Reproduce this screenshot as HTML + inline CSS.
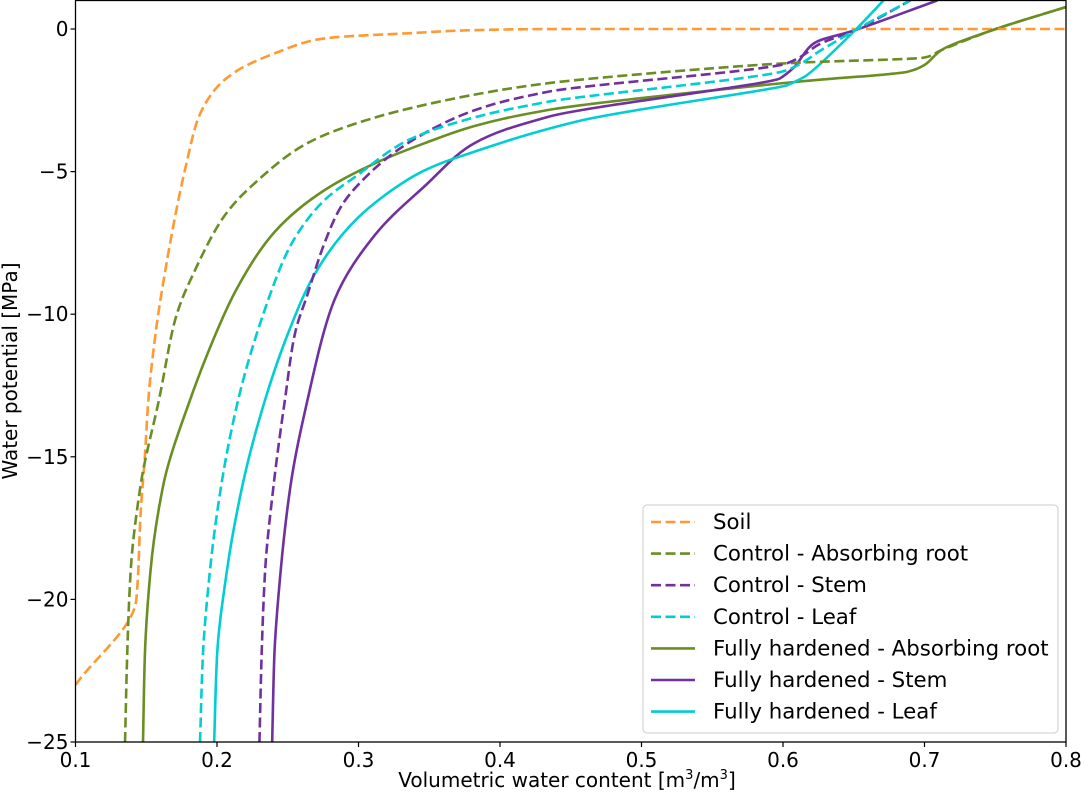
<!DOCTYPE html>
<html><head><meta charset="utf-8"><style>
body{margin:0;background:#fff;}
svg text{font-family:"DejaVu Sans","Liberation Sans",sans-serif;}
</style></head><body>
<svg id="chart" width="1085" height="793" viewBox="0 0 1085 793" xmlns="http://www.w3.org/2000/svg">
<g id="plot"></g>
<g id="axes"></g>
<g id="legend"></g>
</svg>
<script>
const xTicks=[0.1,0.2,0.3,0.4,0.5,0.6,0.7,0.8];
const yTicks=[0,-5,-10,-15,-20,-25];
const seriesNames=["Soil","Control - Absorbing root","Control - Stem","Control - Leaf","Fully hardened - Absorbing root","Fully hardened - Stem","Fully hardened - Leaf"];
const soilX=[0.1,0.143,0.146,0.149,0.1515,0.1565,0.168,0.178,0.187,0.199,0.213,0.241,0.276,0.335,0.382,0.45,0.8];
const soilY=[-23,-20,-17,-15,-13,-10.7,-7.2,-4.8,-3.1,-2.1,-1.5,-0.85,-0.33,-0.15,-0.04,0,0];
const ctrlRootX=[0.135,0.1365,0.139,0.146,0.159,0.171,0.185,0.206,0.229,0.264,0.312,0.382,0.434,0.603,0.700,0.712,0.748,0.8];
const ctrlRootY=[-25,-22,-19,-16,-13,-10.1,-8.4,-6.5,-5.3,-4.0,-3.1,-2.3,-1.9,-1.2,-1.0,-0.74,-0.04,0.77];
const ctrlStemX=[0.230,0.2315,0.234,0.240,0.248,0.255,0.264,0.276,0.288,0.307,0.335,0.382,0.434,0.603,0.627,0.651,0.690];
const ctrlStemY=[-25,-22,-19,-16,-13,-10.7,-9.3,-7.5,-6.2,-5.1,-4.0,-2.85,-2.2,-1.2,-0.5,-0.04,1.0];
const ctrlLeafX=[0.188,0.190,0.195,0.203,0.215,0.232,0.253,0.276,0.300,0.335,0.382,0.434,0.603,0.627,0.651,0.690];
const ctrlLeafY=[-25,-22,-19,-16,-13,-10.1,-7.5,-6.0,-5.1,-3.9,-3.1,-2.55,-1.44,-0.74,-0.04,1.0];
const hardRootX=[0.1477,0.149,0.153,0.162,0.181,0.194,0.213,0.241,0.276,0.312,0.347,0.382,0.434,0.610,0.688,0.700,0.712,0.748,0.8];
const hardRootY=[-25,-22,-19,-16,-13,-11.3,-9.2,-7.1,-5.65,-4.7,-4.0,-3.4,-2.84,-1.85,-1.5,-1.26,-0.74,-0.04,0.77];
const hardStemX=[0.239,0.2405,0.245,0.252,0.264,0.283,0.312,0.347,0.382,0.434,0.598,0.608,0.622,0.651,0.709];
const hardStemY=[-25,-22,-19,-16,-13,-9.5,-7.2,-5.5,-4.0,-3.08,-1.73,-1.33,-0.5,-0.04,1.0];
const hardLeafX=[0.198,0.200,0.207,0.218,0.234,0.250,0.269,0.300,0.347,0.382,0.458,0.603,0.615,0.651,0.671];
const hardLeafY=[-25,-22,-19,-16,-13,-10.7,-8.6,-6.6,-4.95,-4.3,-3.2,-1.97,-1.68,-0.04,1.0];

const NS="http://www.w3.org/2000/svg";
const X0=75.5,PX=1415,XR=1066,Y0=29,PY=28.52,YB=742;
function sx(v){return X0+(v-0.1)*PX;}
function sy(v){return Y0-v*PY;}
function mk(tag,attrs,parent){const e=document.createElementNS(NS,tag);for(const k in attrs)e.setAttribute(k,attrs[k]);parent.appendChild(e);return e;}
function monoTangents(v){
  const n=v.length,d=[],m=new Array(n).fill(0);
  for(let i=0;i<n-1;i++)d.push(v[i+1]-v[i]);
  m[0]=d[0];m[n-1]=d[n-2];
  for(let i=1;i<n-1;i++){
    if(d[i-1]*d[i]<=0)m[i]=0;
    else m[i]=2/(1/d[i-1]+1/d[i]);
  }
  return m;
}
function pathD(xs,ys){
  const px=xs.map(sx),py=ys.map(sy);
  const mx=monoTangents(px),my=monoTangents(py);
  let d="M"+px[0].toFixed(2)+","+py[0].toFixed(2);
  for(let i=0;i<px.length-1;i++){
    d+=" C"+(px[i]+mx[i]/3).toFixed(2)+","+(py[i]+my[i]/3).toFixed(2)+" "+
      (px[i+1]-mx[i+1]/3).toFixed(2)+","+(py[i+1]-my[i+1]/3).toFixed(2)+" "+
      px[i+1].toFixed(2)+","+py[i+1].toFixed(2);
  }
  return d;
}
const plot=document.getElementById('plot');
const defs=mk('defs',{},document.getElementById('chart'));
const cp=mk('clipPath',{id:'clip'},defs);
mk('rect',{x:X0,y:0,width:XR-X0,height:YB},cp);
plot.setAttribute('clip-path','url(#clip)');
const series=[
 [soilX,soilY,'#ff9933',true],[ctrlRootX,ctrlRootY,'#6b8e23',true],[ctrlStemX,ctrlStemY,'#7030a0',true],[ctrlLeafX,ctrlLeafY,'#00ced1',true],
 [hardRootX,hardRootY,'#6b8e23',false],[hardStemX,hardStemY,'#7030a0',false],[hardLeafX,hardLeafY,'#00ced1',false]];
const slugs=['soil','control-absorbing-root','control-stem','control-leaf','hardened-absorbing-root','hardened-stem','hardened-leaf'];
const order=[4,5,6,0,1,2,3];
order.forEach(i=>{
  const s=series[i];
  const el=mk('path',{d:pathD(s[0],s[1]),fill:'none',stroke:s[2],'stroke-width':2.6,'stroke-dasharray':s[3]?'10,4.5':'none'},plot);
  
  
});
const axes=document.getElementById('axes');
const fr=mk('rect',{x:X0,y:0.5,width:XR-X0,height:YB-0.5,fill:'none',stroke:'#000','stroke-width':1.3},axes);


xTicks.forEach(t=>{
  const x=sx(t);
  mk('line',{x1:x,x2:x,y1:YB,y2:YB+5,stroke:'#000','stroke-width':1.2},axes);
  const tx=mk('text',{x:x,y:YB+25,'font-size':20,'text-anchor':'middle'},axes);
  tx.textContent=t.toFixed(1);
  
  
});
yTicks.forEach(t=>{
  const y=sy(t);
  mk('line',{x1:X0-5,x2:X0,y1:y,y2:y,stroke:'#000','stroke-width':1.2},axes);
  const tx=mk('text',{x:X0-7,y:y+7,'font-size':20,'text-anchor':'end'},axes);
  tx.textContent=t<0?'\u2212'+Math.abs(t):String(t);
  
  
});
const xt=mk('text',{x:567,y:787,'font-size':20,'text-anchor':'middle'},axes);
xt.innerHTML='Volumetric water content [m<tspan font-size="13" dy="-8">3</tspan><tspan dy="8">/m</tspan><tspan font-size="13" dy="-8">3</tspan><tspan dy="8">]</tspan>';


const yt=mk('text',{x:0,y:0,'font-size':20,'text-anchor':'middle',transform:'translate(17,371) rotate(-90)'},axes);
yt.textContent='Water potential [MPa]';


const lg=document.getElementById('legend');
const box=mk('rect',{x:643,y:505,width:415,height:228,rx:4,fill:'#fff','fill-opacity':0.85,stroke:'#ccc','stroke-width':1},lg);


seriesNames.forEach((n,i)=>{
  const y=522+i*31.6,s=series[i];
  const g=mk('g',{},lg);
  
  
  mk('line',{x1:651,x2:695,y1:y,y2:y,stroke:s[2],'stroke-width':2.6,'stroke-dasharray':s[3]?'10,4.5':'none'},g);
  const t=mk('text',{x:713,y:y+7,'font-size':21.3},g);
  t.textContent=n;
});
</script>
</body></html>
